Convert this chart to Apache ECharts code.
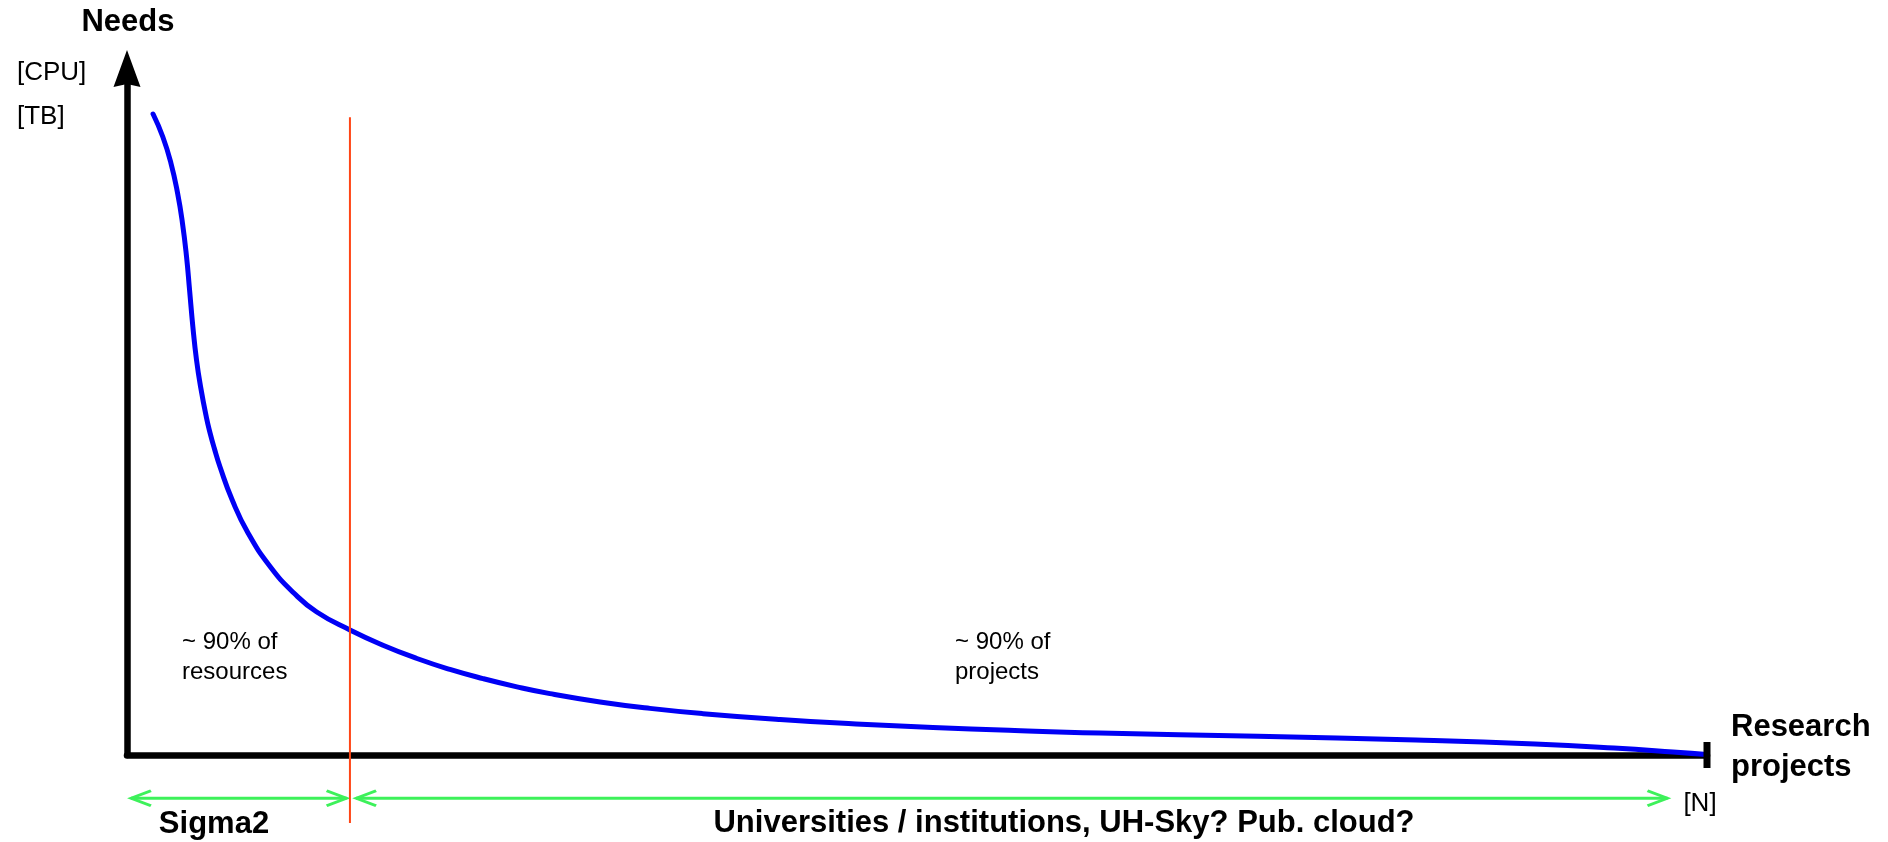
<!DOCTYPE html>
<html>
<head>
<meta charset="utf-8">
<script src="https://cdn.jsdelivr.net/npm/echarts@6/dist/echarts.min.js"></script>
<style>
html,body{margin:0;padding:0;background:#fff;}
#chart{width:1888px;height:842px;}
</style>
</head>
<body>
<div id="chart"></div>
<script>
// ---- data (arbitrary schematic units: x = research projects 0..100, y = needs 0..100) ----
const curveX = [1.65, 2.27, 2.78, 3.20, 3.51, 3.77, 3.96, 4.17, 4.40, 4.66, 5.02, 5.26, 5.52, 5.89, 6.66, 7.66, 9.08, 10.56, 12.01, 14.11, 16.20, 18.35, 20.44, 22.53, 24.68, 26.77, 29.94, 33.10, 36.46, 41.33, 46.14, 51.01, 55.82, 61.58, 71.58, 81.58, 89.11, 94.11, 97.85, 100.3];
const curveY = [93.37, 90.02, 86.23, 81.86, 77.49, 72.54, 67.74, 62.35, 57.54, 53.61, 49.24, 46.90, 44.72, 41.95, 37.14, 32.34, 27.39, 23.60, 20.83, 18.21, 15.99, 14.06, 12.47, 11.13, 9.93, 8.94, 7.73, 6.79, 6.02, 5.17, 4.53, 4.01, 3.60, 3.20, 2.74, 2.18, 1.60, 1.02, 0.44, 0.0];
const dividerX = 14.11;
const dividerSpan = [92.9, -9.9];
const sigmaRange = [0.25, 13.9];
const otherRange = [14.5, 97.5];
const rangeLevel = -6.3;
const xMax = 100;
const yMax = 100;
const labels = {
  yName: 'Needs',
  yUnits: ['[CPU]', '[TB]'],
  xName: 'Research\nprojects',
  xUnit: '[N]',
  leftNote: '~ 90% of\nresources',
  rightNote: '~ 90% of\nprojects',
  leftGroup: 'Sigma2',
  rightGroup: 'Universities / institutions, UH-Sky? Pub. cloud?'
};

const chart = echarts.init(document.getElementById('chart'), null, {renderer: 'canvas'});
const FONT = '"Liberation Sans", Arial, Helvetica, sans-serif';
const GREEN = '#3df15a';
const leftHead = 'path://M10,0 L0,5 L10,10';
const rightHead = 'path://M0,0 L10,5 L0,10';

function arrowSeries(range) {
  return {
    type: 'line',
    clip: false,
    silent: true,
    z: 3,
    lineStyle: {color: GREEN, width: 3},
    itemStyle: {color: 'rgba(0,0,0,0)', borderColor: GREEN, borderWidth: 3},
    symbolKeepAspect: false,
    data: [
      {value: [range[0], rangeLevel], symbol: leftHead, symbolSize: [20, 15], symbolOffset: [10, 0]},
      {value: [range[1], rangeLevel], symbol: rightHead, symbolSize: [20, 15], symbolOffset: [-10, 0]}
    ]
  };
}

const option = {
  animation: false,
  backgroundColor: '#fff',
  grid: {left: 127, right: 181, top: 68.5, bottom: 87, containLabel: false},
  xAxis: {
    type: 'value', min: 0, max: xMax,
    axisLine: {show: true, lineStyle: {color: '#000', width: 6.5}},
    axisTick: {show: false}, axisLabel: {show: false}, splitLine: {show: false}
  },
  yAxis: {
    type: 'value', min: 0, max: yMax,
    axisLine: {show: true, symbol: ['none', 'path://M0,0 L13.5,37 L0,34 L-13.5,37 Z'], symbolSize: [27, 37], symbolOffset: [0, 0],
      lineStyle: {color: '#000', width: 6.5}},
    axisTick: {show: false}, axisLabel: {show: false}, splitLine: {show: false}
  },
  series: [
    {
      type: 'line', silent: true, clip: false, z: 2,
      smooth: 0.5,
      symbol: 'none',
      lineStyle: {color: '#0000f5', width: 5, cap: 'round', join: 'round'},
      data: curveX.map((x, i) => [x, curveY[i]])
    },
    {
      type: 'scatter', silent: true, clip: false, z: 2,
      symbol: 'rect', symbolSize: [7, 26],
      itemStyle: {color: '#000', opacity: 1},
      data: [[xMax, 0]]
    },
    arrowSeries(sigmaRange),
    arrowSeries(otherRange),
    {
      type: 'line', silent: true, clip: false, z: 4,
      symbol: 'none',
      lineStyle: {color: '#ff4515', width: 2},
      data: [[dividerX, dividerSpan[0]], [dividerX, dividerSpan[1]]]
    }
  ],
  graphic: [
    {type: 'text', x: 128, y: 22, style: {text: labels.yName, font: 'bold 31px ' + FONT, fill: '#000', align: 'center', verticalAlign: 'middle'}},
    {type: 'text', x: 17, y: 73, style: {text: labels.yUnits[0], font: '26px ' + FONT, fill: '#000', align: 'left', verticalAlign: 'middle'}},
    {type: 'text', x: 17, y: 117, style: {text: labels.yUnits[1], font: '26px ' + FONT, fill: '#000', align: 'left', verticalAlign: 'middle'}},
    {type: 'text', x: 1731, y: 747, style: {text: labels.xName, font: 'bold 31px ' + FONT, fill: '#000', align: 'left', verticalAlign: 'middle', lineHeight: 40}},
    {type: 'text', x: 1700, y: 804, style: {text: labels.xUnit, font: '26px ' + FONT, fill: '#000', align: 'center', verticalAlign: 'middle'}},
    {type: 'text', x: 182, y: 657, style: {text: labels.leftNote, font: '24px ' + FONT, fill: '#000', align: 'left', verticalAlign: 'middle', lineHeight: 30}},
    {type: 'text', x: 955, y: 657, style: {text: labels.rightNote, font: '24px ' + FONT, fill: '#000', align: 'left', verticalAlign: 'middle', lineHeight: 30}},
    {type: 'text', x: 214, y: 824, style: {text: labels.leftGroup, font: 'bold 31px ' + FONT, fill: '#000', align: 'center', verticalAlign: 'middle'}},
    {type: 'text', x: 1064, y: 823, style: {text: labels.rightGroup, font: 'bold 31px ' + FONT, fill: '#000', align: 'center', verticalAlign: 'middle'}}
  ]
};
chart.setOption(option);
</script>
</body>
</html>
